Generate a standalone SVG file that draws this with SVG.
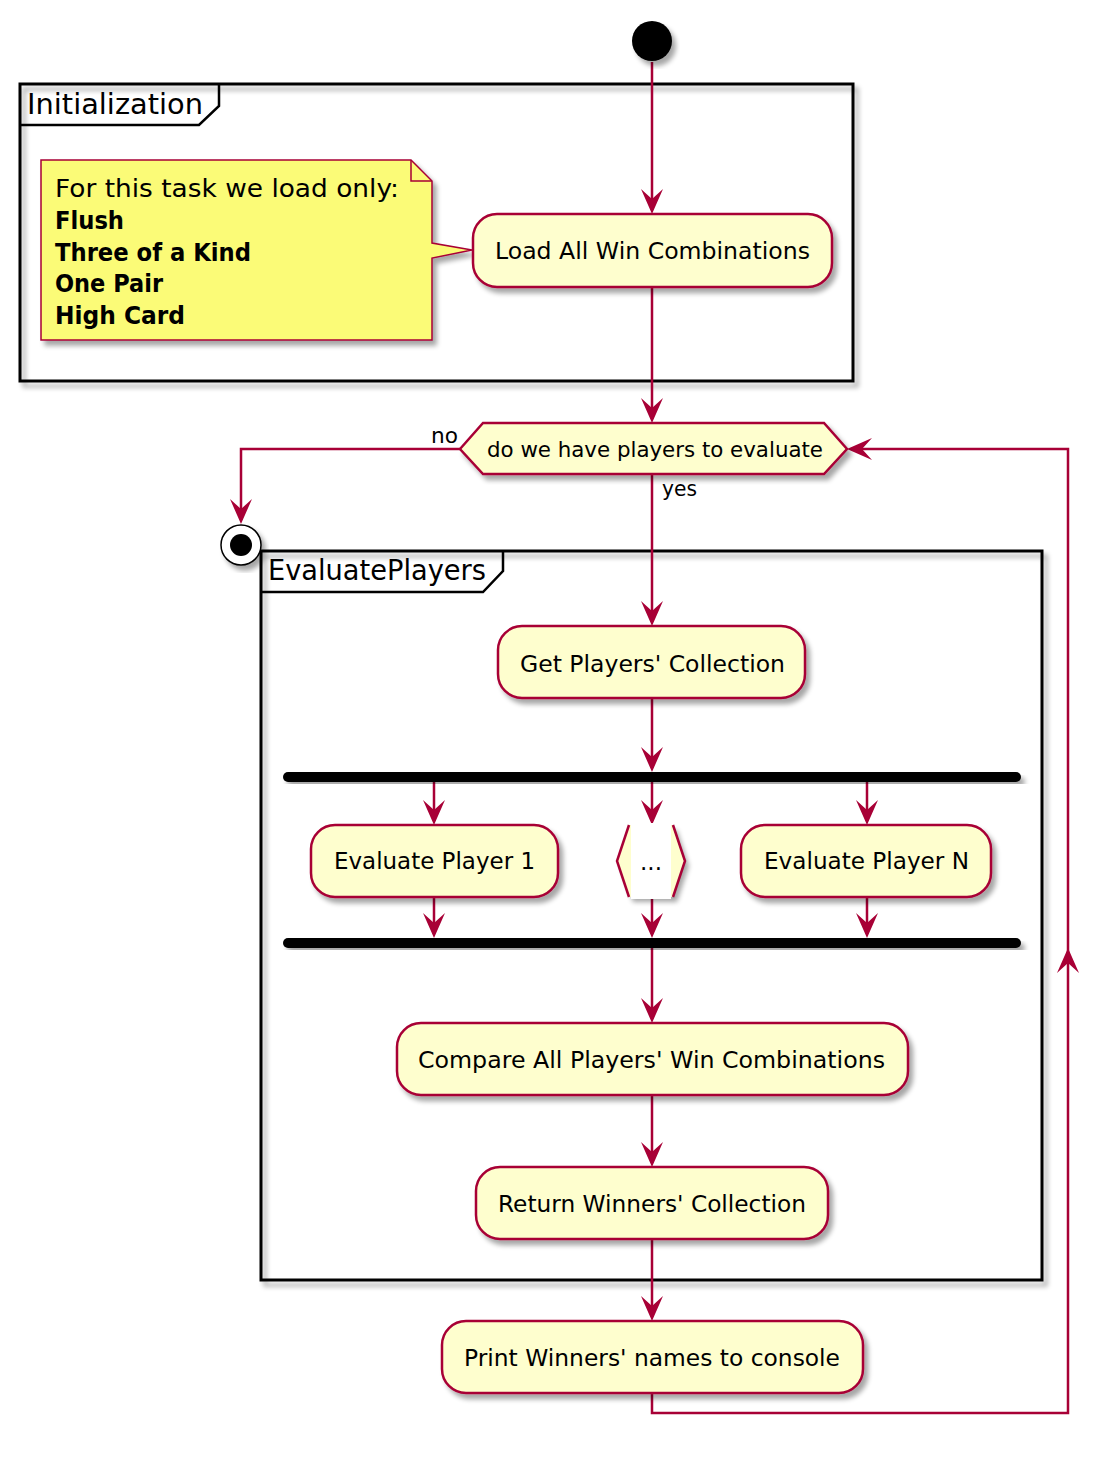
<svg xmlns="http://www.w3.org/2000/svg" width="1119" height="1461" viewBox="0 0 1119 1461">
<style>
text{font-family:"DejaVu Sans","Liberation Sans",sans-serif;fill:#000}
.act{fill:#FEFECE;stroke:#A80036;stroke-width:2.5}
.t{font-size:23px}
.frame{fill:none;stroke:#000;stroke-width:3}
.ftitle{font-size:28px}
.note{fill:#FBFB77;stroke:#A80036;stroke-width:1.5}
.nt{font-size:25px}
.nb{font-size:24px;font-weight:bold}
.lbl{font-size:21px}
.bar{fill:#000}
.conn path{fill:none;stroke:#A80036;stroke-width:2.5}
</style>
<defs>
<filter id="sh" x="-20%" y="-20%" width="140%" height="140%">
<feGaussianBlur in="SourceAlpha" stdDeviation="2.5"/>
<feOffset dx="4" dy="5" result="o"/>
<feComponentTransfer><feFuncA type="linear" slope="0.35"/></feComponentTransfer>
<feMerge><feMergeNode/><feMergeNode in="SourceGraphic"/></feMerge>
</filter>
<marker id="arr" markerUnits="userSpaceOnUse" viewBox="0 0 25 22" markerWidth="25" markerHeight="22" refX="21" refY="11" orient="auto">
<path d="M0,0 L25,11 L0,22 L10,11 Z" fill="#A80036"/>
</marker>
</defs>

<g id="frame-initialization">
<rect class="frame" x="20" y="84" width="833" height="297" filter="url(#sh)"/>
<path d="M20,125 L199,125 L219,106 L219,84" fill="none" stroke="#000" stroke-width="2.5"/>
<text class="ftitle" x="27" y="114" textLength="176" lengthAdjust="spacingAndGlyphs">Initialization</text>
</g>

<g id="frame-evaluateplayers">
<rect class="frame" x="261" y="551" width="781" height="729" filter="url(#sh)"/>
<path d="M261,592 L483,592 L503,571 L503,551" fill="none" stroke="#000" stroke-width="2.5"/>
<text class="ftitle" x="268" y="580" textLength="218" lengthAdjust="spacingAndGlyphs">EvaluatePlayers</text>
</g>

<g class="conn" id="connectors">
<path d="M652,62 V210" marker-end="url(#arr)"/>
<path d="M652,287 V419" marker-end="url(#arr)"/>
<path d="M652,474 V622" marker-end="url(#arr)"/>
<path d="M460,449 H241 V520" marker-end="url(#arr)"/>
<path d="M652,698 V768" marker-end="url(#arr)"/>
<path d="M434,782 V821" marker-end="url(#arr)"/>
<path d="M652,782 V821" marker-end="url(#arr)"/>
<path d="M867,782 V821" marker-end="url(#arr)"/>
<path d="M434,897 V934" marker-end="url(#arr)"/>
<path d="M652,897 V934" marker-end="url(#arr)"/>
<path d="M867,897 V934" marker-end="url(#arr)"/>
<path d="M652,948 V1019" marker-end="url(#arr)"/>
<path d="M652,1095 V1163" marker-end="url(#arr)"/>
<path d="M652,1239 V1317" marker-end="url(#arr)"/>
<path d="M652,1393 V1413 H1068 V952" marker-end="url(#arr)"/>
<path d="M1068,960 V449 H851" marker-end="url(#arr)"/>
<text class="lbl" x="431" y="443" textLength="27" lengthAdjust="spacingAndGlyphs">no</text>
<text class="lbl" x="662" y="496" textLength="35" lengthAdjust="spacingAndGlyphs">yes</text>
</g>

<g id="start">
<circle cx="652" cy="41" r="20" fill="#000" filter="url(#sh)"/>
</g>

<g id="note">
<path class="note" d="M41,160 H411 L432,181 V243 L472,250 L432,258 V340 H41 Z" filter="url(#sh)"/>
<path d="M411,160 V181 H432" fill="none" stroke="#A80036" stroke-width="1.5"/>
<text class="nt" x="55" y="197" textLength="344" lengthAdjust="spacingAndGlyphs">For this task we load only:</text>
<text class="nb" x="55" y="229" textLength="69" lengthAdjust="spacingAndGlyphs">Flush</text>
<text class="nb" x="55" y="261" textLength="196" lengthAdjust="spacingAndGlyphs">Three of a Kind</text>
<text class="nb" x="55" y="292" textLength="108" lengthAdjust="spacingAndGlyphs">One Pair</text>
<text class="nb" x="55" y="324" textLength="130" lengthAdjust="spacingAndGlyphs">High Card</text>
</g>

<g id="load">
<rect class="act" x="473" y="214" width="359" height="73" rx="24" filter="url(#sh)"/>
<text class="t" x="495" y="259" textLength="315" lengthAdjust="spacingAndGlyphs">Load All Win Combinations</text>
</g>

<g id="decision">
<polygon class="act" points="460,449 483,423 824,423 847,449 824,474 483,474" filter="url(#sh)"/>
<text class="lbl" x="487" y="457" textLength="336" lengthAdjust="spacingAndGlyphs">do we have players to evaluate</text>
</g>

<g id="stop">
<circle cx="241" cy="545" r="20" fill="#fff" stroke="#000" stroke-width="1.5" filter="url(#sh)"/>
<circle cx="241" cy="545" r="11" fill="#000"/>
</g>

<g id="get-players">
<rect class="act" x="498" y="626" width="307" height="72" rx="24" filter="url(#sh)"/>
<text class="t" x="520" y="672" textLength="265" lengthAdjust="spacingAndGlyphs">Get Players' Collection</text>
</g>

<g id="fork">
<rect class="bar" x="283" y="772" width="738" height="10" rx="5" filter="url(#sh)"/>
</g>

<g id="eval-1">
<rect class="act" x="311" y="825" width="247" height="72" rx="24" filter="url(#sh)"/>
<text class="t" x="334" y="869" textLength="201" lengthAdjust="spacingAndGlyphs">Evaluate Player 1</text>
</g>

<g id="eval-dots">
<polygon points="617,861 629,825 673,825 685,861 673,897 629,897" fill="#FEFECE" filter="url(#sh)"/>
<rect x="631" y="823" width="40" height="76" fill="#fff"/>
<polyline points="629,825 617,861 629,897" fill="none" stroke="#A80036" stroke-width="2.5"/>
<polyline points="673,825 685,861 673,897" fill="none" stroke="#A80036" stroke-width="2.5"/>
<text class="t" x="651" y="870" text-anchor="middle">...</text>
</g>

<g id="eval-n">
<rect class="act" x="741" y="825" width="250" height="72" rx="24" filter="url(#sh)"/>
<text class="t" x="764" y="869" textLength="205" lengthAdjust="spacingAndGlyphs">Evaluate Player N</text>
</g>

<g id="join">
<rect class="bar" x="283" y="938" width="738" height="10" rx="5" filter="url(#sh)"/>
</g>

<g id="compare">
<rect class="act" x="397" y="1023" width="511" height="72" rx="24" filter="url(#sh)"/>
<text class="t" x="418" y="1068" textLength="467" lengthAdjust="spacingAndGlyphs">Compare All Players' Win Combinations</text>
</g>

<g id="return">
<rect class="act" x="476" y="1167" width="352" height="72" rx="24" filter="url(#sh)"/>
<text class="t" x="498" y="1212" textLength="308" lengthAdjust="spacingAndGlyphs">Return Winners' Collection</text>
</g>

<g id="print">
<rect class="act" x="442" y="1321" width="421" height="72" rx="24" filter="url(#sh)"/>
<text class="t" x="464" y="1366" textLength="376" lengthAdjust="spacingAndGlyphs">Print Winners' names to console</text>
</g>
</svg>
